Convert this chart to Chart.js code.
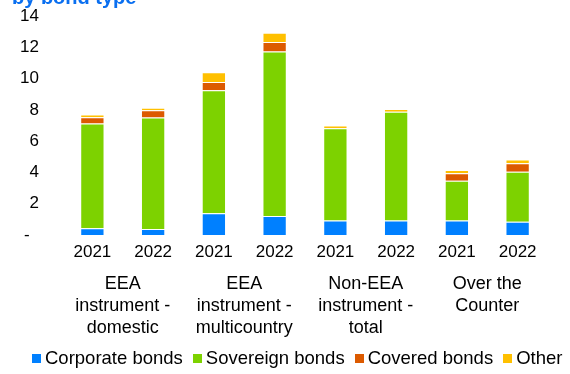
<!DOCTYPE html>
<html>
<head>
<meta charset="utf-8">
<script src="https://cdn.jsdelivr.net/npm/chart.js@4.4.1/dist/chart.umd.min.js"></script>
<style>
  html, body { margin: 0; padding: 0; background: #fff; }
  #wrap { position: relative; width: 570px; height: 374px; overflow: hidden; font-family: Arial, 'Liberation Sans', sans-serif; }
  #title { position: absolute; left: 12px; top: -14px; font-size: 20px; line-height: 22px; font-weight: bold; color: #0A6FF0; white-space: nowrap; }
  #legend { position: absolute; left: 32px; top: 348px; height: 20px; display: flex; align-items: center; font-size: 18.5px; color: #000; white-space: nowrap; }
  #legend .item { display: flex; align-items: center; margin-right: 10px; }
  #legend .box { width: 9px; height: 9px; margin-right: 4px; }
</style>
</head>
<body>
<div id="wrap">
  <canvas id="bondChart" width="570" height="374"></canvas>
  <div id="title">by bond type</div>
  <div id="legend"></div>
</div>
<script>
// categories
const years = ['2021', '2022', '2021', '2022', '2021', '2022', '2021', '2022'];
const groups = [
  ['EEA', 'instrument -', 'domestic'],
  ['EEA', 'instrument -', 'multicountry'],
  ['Non-EEA', 'instrument -', 'total'],
  ['Over the', 'Counter']
];

// series values
const corporate = [0.43, 0.38, 1.39, 1.22, 0.92, 0.92, 0.92, 0.85];
const sovereign = [6.70, 7.13, 7.86, 10.51, 5.91, 6.96, 2.55, 3.20];
const covered   = [0.40, 0.47, 0.53, 0.60, 0.00, 0.00, 0.47, 0.53];
const other     = [0.18, 0.15, 0.62, 0.60, 0.17, 0.17, 0.21, 0.24];

const seriesNames = ['Corporate bonds', 'Sovereign bonds', 'Covered bonds', 'Other'];
const seriesColors = ['#0080FF', '#7DD200', '#DC5A00', '#FFC000'];

const yTicks = [0, 2, 4, 6, 8, 10, 12, 14];

const FONT = "Arial, 'Liberation Sans', sans-serif";

const seriesData = [corporate, sovereign, covered, other];

new Chart(document.getElementById('bondChart').getContext('2d'), {
  type: 'bar',
  data: {
    labels: years,
    datasets: seriesData.map((d, i) => ({
      label: seriesNames[i],
      data: d,
      backgroundColor: seriesColors[i],
      borderColor: 'rgba(255,255,255,0.35)',
      borderWidth: 1,
      barPercentage: 0.4,
      categoryPercentage: 1
    }))
  },
  options: {
    responsive: false,
    animation: false,
    layout: { padding: { left: 0, right: 22, top: 16, bottom: 29 } },
    plugins: {
      legend: { display: false },
      tooltip: { enabled: false }
    },
    scales: {
      x: {
        stacked: true,
        offset: true,
        grid: { display: false, drawTicks: false },
        border: { display: false },
        ticks: {
          color: '#000',
          font: { family: FONT, size: 17 },
          padding: 7,
          maxRotation: 0,
          autoSkip: false
        },
        afterFit: s => { s.height = 30; }
      },
      x2: {
        type: 'category',
        position: 'bottom',
        labels: groups,
        offset: true,
        weight: 1,
        grid: { display: false, drawTicks: false },
        border: { display: false },
        ticks: {
          color: '#000',
          font: { family: FONT, size: 18, lineHeight: 1.22 },
          padding: 8,
          maxRotation: 0,
          autoSkip: false
        },
        afterFit: s => { s.height = 80; }
      },
      y: {
        stacked: true,
        min: 0,
        max: 14,
        afterBuildTicks: s => { s.ticks = yTicks.map(v => ({ value: v })); },
        grid: { display: false, drawTicks: false },
        border: { display: false },
        ticks: {
          color: '#000',
          font: { family: FONT, size: 17 },
          padding: 23,
          callback: v => v === 0 ? '-  ' : String(v)
        },
        afterFit: s => {
          s.width = 62;
          s.paddingTop = 0;
          s.paddingBottom = 0;
        }
      }
    }
  }
});

// legend
const legend = document.getElementById('legend');
seriesNames.forEach((name, i) => {
  const item = document.createElement('span');
  item.className = 'item';
  const box = document.createElement('span');
  box.className = 'box';
  box.style.background = seriesColors[i];
  item.appendChild(box);
  item.appendChild(document.createTextNode(name));
  legend.appendChild(item);
});
</script>
</body>
</html>
